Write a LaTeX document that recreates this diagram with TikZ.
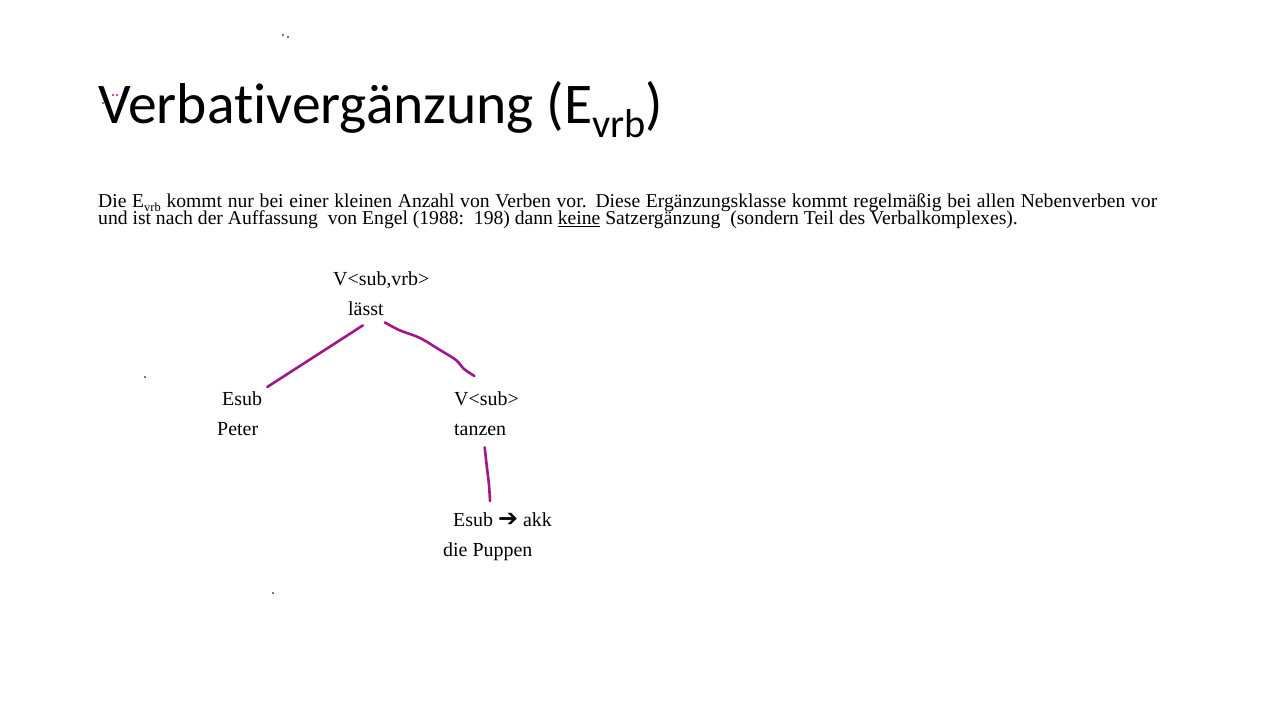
\documentclass[tikz,border=0pt]{standalone}
\usepackage{fontspec}
\setmainfont{Liberation Serif}
\newfontfamily\titlefont[Ligatures={NoCommon}]{Carlito}
\newfontfamily\symfont{DejaVu Sans}
\usetikzlibrary{calc}
\definecolor{inkc}{HTML}{A0168E}

\begin{document}
\begin{tikzpicture}[x=1bp,y=-1bp,
  lbl/.style={inner sep=0pt, anchor=base west, font=\fontsize{20}{20}\selectfont},
  ink/.style={draw=inkc, line width=2.6bp, line cap=round, line join=round},
  speck/.style={fill=inkc, draw=none}]
\useasboundingbox (0,0) rectangle (1280,720);

% heading
\node[inner sep=0pt, anchor=base west, font=\titlefont\fontsize{57.8}{60}\selectfont] (title) at (98,124)
  {Verbativergänzung (E\raisebox{-14bp}{\fontsize{40.5}{41}\selectfont vrb})};

% explanatory paragraph, two lines
\node[inner sep=0pt, anchor=base west, font=\fontsize{19.7}{16}\selectfont] (body1) at (98,208)
  {\makebox[1059bp][s]{Die E\raisebox{-3.5bp}{\fontsize{12.5}{12}\selectfont vrb} kommt nur bei einer kleinen Anzahl von Verben vor. Diese Ergänzungsklasse kommt regelmäßig bei allen Nebenverben vor}};
\node[inner sep=0pt, anchor=base west, font=\fontsize{19.7}{16}\selectfont] (body2) at (98,224.5)
  {und ist nach der Auffassung\ \ von Engel (1988:\ \ 198) dann \underline{keine} Satzergänzung\ \ (sondern Teil des Verbalkomplexes).};

% tree labels
\node[lbl] (vtop)   at (333,285) {V<sub,vrb>};
\node[lbl] (laesst) at (348,315) {lässt};
\node[lbl] (esub1)  at (222,405) {Esub};
\node[lbl] (peter)  at (217,435) {Peter};
\node[lbl] (vsub)   at (454,405) {V<sub>};
\node[lbl] (tanzen) at (454,435) {tanzen};
\node[lbl] (akk)    at (453,526) {Esub\hspace{5bp}{\symfont\bfseries\fontsize{24}{24}\selectfont ➔}\hspace{5bp}akk};
\node[lbl] (puppen) at (443,556) {die Puppen};

% hand-drawn branches
\draw[ink] ($(laesst.south)+(-3,10)$) -- ($(esub1.north east)+(5,-4)$);

\coordinate (r0) at ($(laesst.south east)+(1,7)$);
\coordinate (r5) at ($(vsub.north)+(-12,-15)$);
\draw[ink] plot[smooth, tension=0.5] coordinates {(r0) (399,330) (420,338) (440,350) (456,360) (464,369) (r5)};

\coordinate (t0) at ($(tanzen.south)+(4.5,12)$);
\coordinate (t2) at ($(akk.north west)+(37,-11)$);
\draw[ink] plot[smooth, tension=0.6] coordinates {(t0) (487,468) (489,485) (t2)};

% stray ink specks
\foreach \p in {(283,35),(288,37),(145,377),(273,593),(113,95),(117,95),(103,103)}
  \fill[speck] \p circle (1.2);
\end{tikzpicture}
\end{document}
